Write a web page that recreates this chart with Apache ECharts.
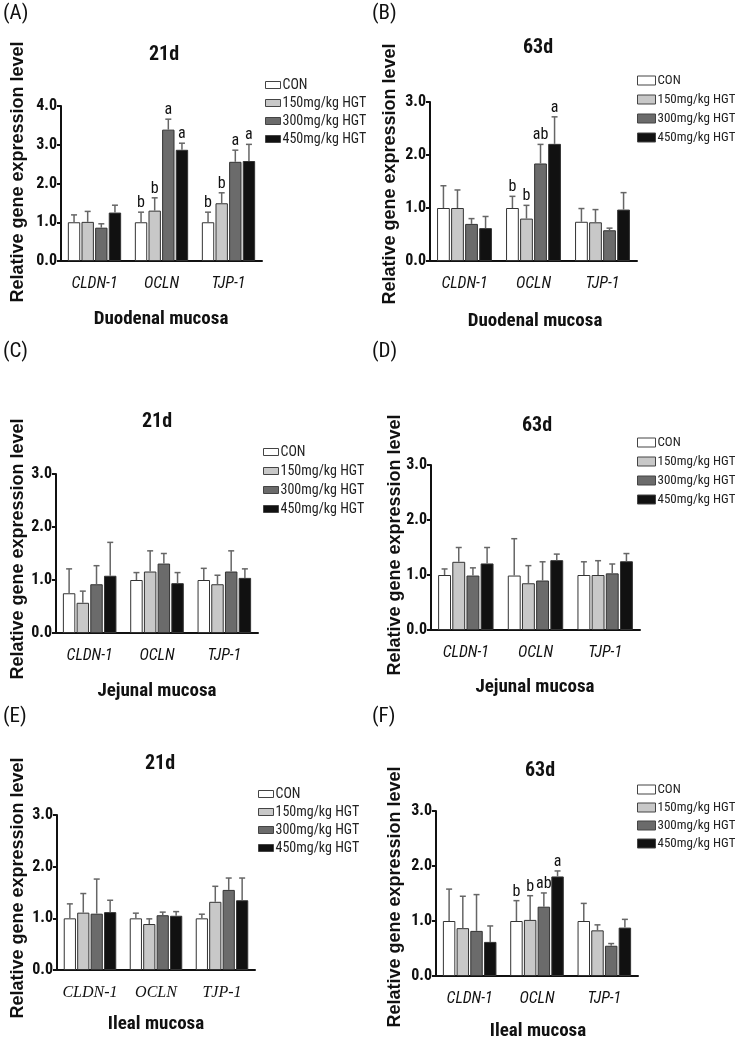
<!DOCTYPE html>
<html><head><meta charset="utf-8">
<script src="https://cdn.jsdelivr.net/npm/echarts@6/dist/echarts.min.js"></script>
<style>html,body{margin:0;padding:0;background:#fff}#c{width:735px;height:1042px}</style>
</head><body><div id="c"></div>
<script>
// ---- data ----
const genes = ['CLDN-1', 'OCLN', 'TJP-1'];
const groups = ['CON', '150mg/kg HGT', '300mg/kg HGT', '450mg/kg HGT'];
const yTicksDuo21 = [0, 1, 2, 3, 4];
const yTicksOther = [0, 1, 2, 3];

// rows = groups (CON, 150, 300, 450); columns = genes
const duo21Mean = [[1.00, 1.00, 1.00], [1.01, 1.30, 1.49], [0.86, 3.39, 2.56], [1.25, 2.87, 2.58]];
const duo21Sd   = [[0.19, 0.26, 0.26], [0.27, 0.33, 0.27], [0.10, 0.27, 0.30], [0.19, 0.17, 0.43]];
const duo21Sig  = [['', 'b', 'b'], ['', 'b', 'b'], ['', 'a', 'a'], ['', 'a', 'a']];

const duo63Mean = [[1.00, 1.00, 0.74], [1.00, 0.80, 0.73], [0.70, 1.84, 0.58], [0.62, 2.21, 0.97]];
const duo63Sd   = [[0.42, 0.22, 0.25], [0.34, 0.25, 0.24], [0.10, 0.36, 0.04], [0.22, 0.51, 0.32]];
const duo63Sig  = [['', 'b', ''], ['', 'b', ''], ['', 'ab', ''], ['', 'a', '']];

const jej21Mean = [[0.75, 1.00, 1.00], [0.57, 1.16, 0.92], [0.92, 1.31, 1.16], [1.08, 0.94, 1.04]];
const jej21Sd   = [[0.46, 0.14, 0.22], [0.22, 0.39, 0.17], [0.35, 0.19, 0.39], [0.63, 0.20, 0.17]];
const jej21Sig  = [['', '', ''], ['', '', ''], ['', '', ''], ['', '', '']];

const jej63Mean = [[1.00, 0.99, 1.00], [1.24, 0.85, 1.00], [0.99, 0.90, 1.03], [1.21, 1.27, 1.25]];
const jej63Sd   = [[0.11, 0.67, 0.24], [0.26, 0.32, 0.26], [0.14, 0.34, 0.17], [0.29, 0.11, 0.14]];
const jej63Sig  = [['', '', ''], ['', '', ''], ['', '', ''], ['', '', '']];

const ile21Mean = [[1.00, 1.00, 1.00], [1.11, 0.89, 1.32], [1.09, 1.06, 1.55], [1.12, 1.05, 1.35]];
const ile21Sd   = [[0.28, 0.10, 0.08], [0.37, 0.10, 0.30], [0.67, 0.06, 0.23], [0.23, 0.08, 0.43]];
const ile21Sig  = [['', '', ''], ['', '', ''], ['', '', ''], ['', '', '']];

const ile63Mean = [[1.00, 1.00, 1.00], [0.87, 1.02, 0.83], [0.82, 1.26, 0.55], [0.62, 1.81, 0.88]];
const ile63Sd   = [[0.58, 0.37, 0.32], [0.58, 0.44, 0.10], [0.66, 0.25, 0.04], [0.29, 0.10, 0.15]];
const ile63Sig  = [['', 'b', ''], ['', 'b', ''], ['', 'ab', ''], ['', 'a', '']];

// ---- layout / style ----
const NARROW = "'Roboto Condensed','Liberation Sans',sans-serif";
const SANS = "'Liberation Sans',Arial,sans-serif";
const SERIF = "'Liberation Serif','Times New Roman',serif";
const fills = ['#ffffff', '#c8c8c8', '#6b6b6b', '#111111'];

const panels = [
  {mean: duo21Mean, sd: duo21Sd, sig: duo21Sig, ticks: yTicksDuo21, grid: {left: 61, top: 106, width: 201, height: 155},
   tag: '(A)', tagXY: [3, 3], title: '21d', titleXY: [164, 55], xName: 'Duodenal mucosa', xNameXY: [161, 319], yNameXY: [18, 172],
   legend: {left: 265, top: 78, w: 15, h: 7, gap: 4, fs: 14}, xFont: NARROW},
  {mean: duo63Mean, sd: duo63Sd, sig: duo63Sig, ticks: yTicksOther, grid: {left: 430, top: 102, width: 207, height: 159},
   tag: '(B)', tagXY: [372, 3], title: '63d', titleXY: [538, 48], xName: 'Duodenal mucosa', xNameXY: [535, 321], yNameXY: [390, 174],
   legend: {left: 637, top: 74, w: 18, h: 9, gap: 6, fs: 13}, xFont: NARROW},
  {mean: jej21Mean, sd: jej21Sd, sig: jej21Sig, ticks: yTicksOther, grid: {left: 56, top: 474, width: 202, height: 159},
   tag: '(C)', tagXY: [3, 341], title: '21d', titleXY: [157, 422], xName: 'Jejunal mucosa', xNameXY: [157, 691], yNameXY: [18, 549],
   legend: {left: 263, top: 445, w: 15, h: 7, gap: 5, fs: 14}, xFont: NARROW},
  {mean: jej63Mean, sd: jej63Sd, sig: jej63Sig, ticks: yTicksOther, grid: {left: 431, top: 465, width: 209, height: 165},
   tag: '(D)', tagXY: [372, 341], title: '63d', titleXY: [537, 426], xName: 'Jejunal mucosa', xNameXY: [535, 687], yNameXY: [395, 545],
   legend: {left: 637, top: 436, w: 18, h: 9, gap: 6, fs: 13}, xFont: NARROW},
  {mean: ile21Mean, sd: ile21Sd, sig: ile21Sig, ticks: yTicksOther, grid: {left: 57, top: 815, width: 198, height: 155},
   tag: '(E)', tagXY: [3, 706], title: '21d', titleXY: [160, 764], xName: 'Ileal mucosa', xNameXY: [156, 1024], yNameXY: [18, 888],
   legend: {left: 258, top: 787, w: 15, h: 7, gap: 4, fs: 14}, xFont: SERIF},
  {mean: ile63Mean, sd: ile63Sd, sig: ile63Sig, ticks: yTicksOther, grid: {left: 436, top: 811, width: 202, height: 165},
   tag: '(F)', tagXY: [372, 706], title: '63d', titleXY: [540, 771], xName: 'Ileal mucosa', xNameXY: [538, 1031], yNameXY: [395, 897],
   legend: {left: 637, top: 783, w: 18, h: 9, gap: 5, fs: 13}, xFont: NARROW}
];

const BW = 0.185, GAP = 0.1;
const grids = [], xAxes = [], yAxes = [], series = [], legends = [], graphics = [];

panels.forEach((p, pi) => {
  grids.push(Object.assign({containLabel: false}, p.grid));
  xAxes.push({
    type: 'category', gridIndex: pi, data: genes,
    axisLine: {lineStyle: {color: '#111', width: 2}},
    axisTick: {alignWithLabel: true, length: 5, lineStyle: {width: 2, color: '#111'}},
    axisLabel: {interval: 0, margin: 15, color: '#111', fontFamily: p.xFont, fontStyle: 'italic', fontSize: 16}
  });
  const tmax = p.ticks[p.ticks.length - 1];
  yAxes.push({
    type: 'value', gridIndex: pi, min: p.ticks[0], max: tmax, interval: 1,
    splitLine: {show: false},
    axisLine: {show: true, lineStyle: {color: '#111', width: 2}},
    axisTick: {show: true, length: 4, lineStyle: {width: 2, color: '#111'}},
    axisLabel: {margin: 4, color: '#111', fontFamily: NARROW, fontWeight: 'bold', fontSize: 16,
      formatter: v => v.toFixed(1)}
  });
  groups.forEach((g, gi) => {
    series.push({
      name: g, type: 'bar', xAxisIndex: pi, yAxisIndex: pi,
      data: p.mean[gi], barWidth: (BW * 100) + '%', barGap: (GAP * 100) + '%',
      itemStyle: {color: fills[gi], borderColor: '#333', borderWidth: 1},
      emphasis: {disabled: true}, animation: false
    });
  });
  const ebData = [], ebSig = [];
  groups.forEach((g, gi) => {
    genes.forEach((gn, ci) => {
      ebData.push([ci, gi, p.mean[gi][ci], p.mean[gi][ci] + p.sd[gi][ci]]);
      ebSig.push(p.sig[gi][ci]);
    });
  });
  series.push({
    type: 'custom', xAxisIndex: pi, yAxisIndex: pi, silent: true, z: 5, animation: false,
    data: ebData, encode: {x: 0, y: 3},
    renderItem: (params, api) => {
      const ci = api.value(0), gi = api.value(1), m = api.value(2), t = api.value(3);
      const base = api.coord([ci, m]);
      const top = api.coord([ci, t]);
      const band = api.size([1, 0])[0];
      const bw = band * BW, gap = bw * GAP, total = 4 * bw + 3 * gap;
      const x = base[0] - total / 2 + gi * (bw + gap) + bw / 2;
      const cap = 6;
      const ls = {stroke: '#666', lineWidth: 1.5};
      const children = [
        {type: 'line', shape: {x1: x, y1: base[1], x2: x, y2: top[1]}, style: ls},
        {type: 'line', shape: {x1: x - cap / 2, y1: top[1], x2: x + cap / 2, y2: top[1]}, style: ls}
      ];
      const s = ebSig[params.dataIndex];
      if (s) children.push({type: 'text', style: {text: s, x: x, y: top[1] - 1, align: 'center', verticalAlign: 'bottom',
        font: '16px ' + NARROW, fill: '#111'}});
      return {type: 'group', children};
    }
  });
  legends.push({
    data: groups, orient: 'vertical', left: p.legend.left, top: p.legend.top,
    itemWidth: p.legend.w, itemHeight: p.legend.h, itemGap: p.legend.gap, icon: 'rect',
    padding: 0, selectedMode: false,
    itemStyle: {borderColor: '#444', borderWidth: 1},
    textStyle: {fontFamily: NARROW, fontSize: p.legend.fs, color: '#222', padding: [0, 0, 0, -3]}
  });
  graphics.push(
    {type: 'text', x: p.tagXY[0], y: p.tagXY[1], style: {text: p.tag, font: '21px ' + NARROW, fill: '#111'}},
    {type: 'text', x: p.titleXY[0], y: p.titleXY[1], style: {text: p.title, font: 'bold 20px ' + NARROW, fill: '#111', align: 'center', verticalAlign: 'middle'}},
    {type: 'text', x: p.xNameXY[0], y: p.xNameXY[1], style: {text: p.xName, font: 'bold 19px ' + NARROW, fill: '#111', align: 'center', verticalAlign: 'middle'}},
    {type: 'text', x: p.yNameXY[0], y: p.yNameXY[1], rotation: Math.PI / 2,
      style: {text: 'Relative gene expression level', font: 'bold 18px ' + SANS, fill: '#111', align: 'center', verticalAlign: 'middle'}}
  );
});

const chart = echarts.init(document.getElementById('c'), null, {renderer: 'canvas'});
chart.setOption({
  backgroundColor: '#fff', animation: false,
  grid: grids, xAxis: xAxes, yAxis: yAxes, series, legend: legends, graphic: graphics
});
</script></body></html>
